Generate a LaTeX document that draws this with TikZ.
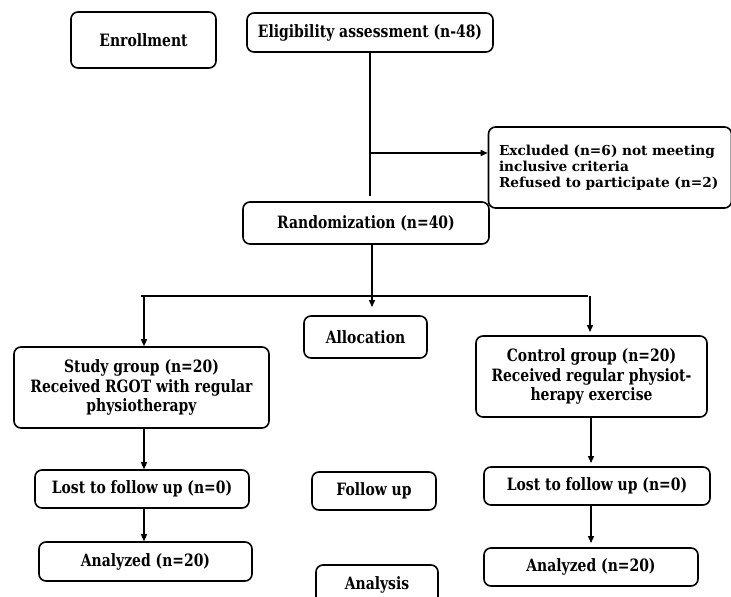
\documentclass[tikz,border=0pt]{standalone}
\usepackage{fontspec}
\setmainfont{DejaVu Serif}
\newfontfamily\condfont{DejaVu Serif}[FakeStretch=0.82]
\newfontfamily\exclfont{DejaVu Serif}
\usetikzlibrary{arrows.meta}
\begin{document}
\begin{tikzpicture}[x=1pt,y=-1pt,
  box/.style={draw,line width=1.6pt,rounded corners=7pt,inner sep=2pt,align=center,
    font=\condfont\fontsize{17}{19.8}\selectfont\bfseries},
  thick line/.style={line width=2.4pt},
  arr/.style={line width=1.4pt,-{Triangle[length=7pt,width=6pt]}}]
\useasboundingbox (0,0) rectangle (731,597);
\node[box,minimum width=145pt,minimum height=56pt] (enr) at (143.5,40) {Enrollment};
\node[box,minimum width=246pt,minimum height=39pt] (elig) at (370,32.5) {Eligibility assessment (n-48)};
\node[box,minimum width=243pt,minimum height=81pt,text width=222pt,align=left,
  font=\exclfont\fontsize{13.7}{15.8}\selectfont\bfseries] (excl) at (610,167.5)
  {\makebox[\linewidth][s]{Excluded (n=6) not meeting}\\\mbox{inclusive criteria}\\\mbox{Refused to participate (n=2)}};
\node[box,minimum width=246pt,minimum height=42pt] (rand) at (366,223) {Randomization (n=40)};
\node[box,minimum width=123pt,minimum height=42pt] (alloc) at (365.5,337) {Allocation};
\node[box,minimum width=255pt,minimum height=81pt] (study) at (141.5,387.5)
  {Study group (n=20)\\Received RGOT with regular\\physiotherapy};
\node[box,minimum width=231pt,minimum height=81pt] (ctrl) at (591.5,376.5)
  {Control group (n=20)\\Received regular physiot-\\herapy exercise};
\node[box,minimum width=214pt,minimum height=38pt] (lostL) at (142,489) {Lost to follow up (n=0)};
\node[box,minimum width=213pt,minimum height=39pt] (anaL) at (145.5,561.5) {Analyzed (n=20)};
\node[box,minimum width=124pt,minimum height=38pt] (fup) at (374,491) {Follow up};
\node[box,minimum width=122pt,minimum height=40pt] (anal) at (377,585) {Analysis};
\node[box,minimum width=226pt,minimum height=38pt] (lostR) at (597,486) {Lost to follow up (n=0)};
\node[box,minimum width=214pt,minimum height=38pt] (anaR) at (591,567) {Analyzed (n=20)};
% connectors
\coordinate (v1) at (370,196);
\coordinate (vb) at (370,153);
\draw[thick line] (elig.south -| v1) -- (v1);
\draw[arr] (vb) -- (vb -| excl.west);
\coordinate (ra) at (372,307);
\draw[arr] (rand.south -| ra) -- (ra);
\coordinate (hl) at (141,296);
\coordinate (hr) at (588,296);
\draw[thick line] (hl) -- (hr);
\coordinate (sl) at (144,296);
\draw[arr] (sl) -- (sl |- study.north);
\coordinate (cr) at (590,296);
\coordinate (cre) at (590,332);
\draw[arr] (cr) -- (cre);
\coordinate (lx) at (144,0);
\draw[arr] (study.south -| lx) -- (lostL.north -| lx);
\draw[arr] (lostL.south -| lx) -- (anaL.north -| lx);
\coordinate (rx1) at (591,463);
\coordinate (rx2) at (591,543);
\draw[arr] (ctrl.south -| rx1) -- (rx1);
\draw[arr] (lostR.south -| rx2) -- (rx2);
\end{tikzpicture}
\end{document}
